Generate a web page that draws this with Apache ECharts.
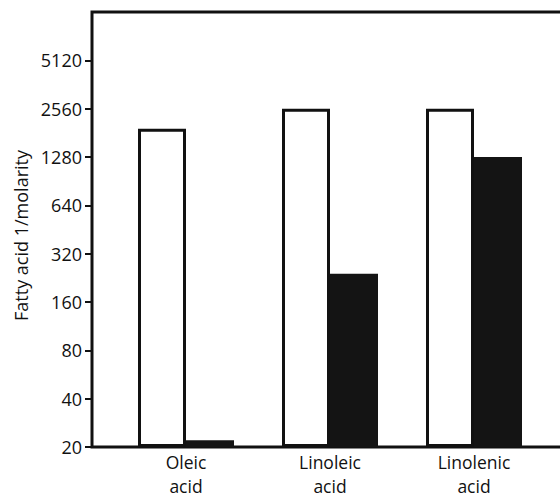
<!DOCTYPE html>
<html>
<head>
<meta charset="utf-8">
<script src="https://cdn.jsdelivr.net/npm/echarts@6/dist/echarts.min.js"></script>
<style>
  html, body { margin: 0; padding: 0; background: #fff; }
  #chart { width: 560px; height: 499px; }
</style>
</head>
<body>
<div id="chart"></div>
<script>
// data (1/molarity, log2 scale starting at 20)
var categories = ['Oleic\nacid', 'Linoleic\nacid', 'Linolenic\nacid'];
var openValues = [1920, 2560, 2560];
var filledValues = [22, 240, 1280];
var tickLabels = ['20', '40', '80', '160', '320', '640', '1280', '2560', '5120'];

var base = 20;
function toLog(v) { return Math.log2(v / base); }

var ink = '#111';
var font = '"Open Sans", "DejaVu Sans", sans-serif';
var tickPos = tickLabels.map(function(t, i) { return i; });

var chart = echarts.init(document.getElementById('chart'), null, { renderer: 'svg' });
chart.setOption({
  animation: false,
  grid: [
    // frame: left axis, top rule and base line
    { left: 92, right: -6, top: 12, bottom: 52, show: true, borderColor: ink, borderWidth: 3,
      backgroundColor: 'transparent', outerBoundsMode: 'none' },
    // bars
    { left: 114, right: 14, top: 12, bottom: 52, outerBoundsMode: 'none' }
  ],
  xAxis: [
    { gridIndex: 0, type: 'category', data: [''], show: false },
    {
      gridIndex: 1,
      type: 'category',
      data: categories,
      axisLine: { show: false },
      axisTick: { show: false },
      axisLabel: { color: ink, fontSize: 17.5, fontFamily: font, lineHeight: 24, margin: 3 }
    }
  ],
  yAxis: [
    {
      gridIndex: 0,
      type: 'value',
      min: 0,
      max: 9,
      interval: 1,
      name: 'Fatty acid 1/molarity',
      nameLocation: 'middle',
      nameGap: 62,
      nameTextStyle: { color: ink, fontSize: 18, fontFamily: font, padding: [0, 12, 0, 0] },
      axisLine: { show: false },
      axisTick: { show: true, length: 7, customValues: tickPos, lineStyle: { color: ink, width: 2 } },
      splitLine: { show: false },
      axisLabel: {
        color: ink, fontSize: 18, fontFamily: font, margin: 10,
        customValues: tickPos,
        formatter: function(v) { return tickLabels[v] || ''; }
      }
    },
    { gridIndex: 1, type: 'value', min: 0, max: 9, show: false }
  ],
  series: [
    {
      type: 'bar',
      xAxisIndex: 1,
      yAxisIndex: 1,
      data: openValues.map(toLog),
      barWidth: 48,
      barGap: '0%',
      itemStyle: { color: '#fff', borderColor: ink, borderWidth: 3 }
    },
    {
      type: 'bar',
      xAxisIndex: 1,
      yAxisIndex: 1,
      data: filledValues.map(toLog),
      barWidth: 48,
      barGap: '0%',
      itemStyle: { color: '#141414' }
    }
  ]
});
</script>
</body>
</html>
